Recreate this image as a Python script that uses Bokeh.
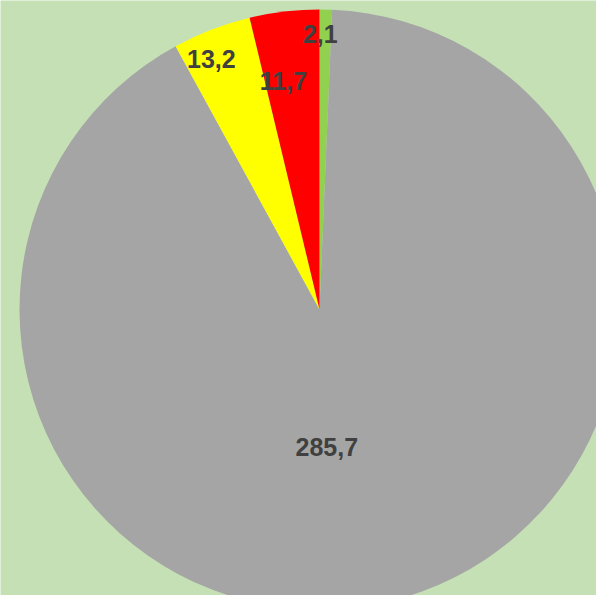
import math
from bokeh.plotting import figure
from bokeh.models import ColumnDataSource
from bokeh.core.properties import value
from bokeh.embed import file_html
from bokeh.resources import INLINE

# Data (clockwise from 12 o'clock)
labels = ["2,1", "285,7", "13,2", "11,7"]
values = [2.1, 285.7, 13.2, 11.7]
colors = ["#92D050", "#A5A5A5", "#FFFF00", "#FF0000"]

# Layout / style
W, H = 596, 595
CX, CY = 319, H - 309
R = 300
label_rfrac = [0.92, 0.46, 0.91, 0.77]
label_dx = [-5, -24, -10, -9]
label_dy = [0, -3, -4, -1]

total = sum(values)
starts, ends, lx, ly = [], [], [], []
acc = 0.0
for v, rf, dx, dy in zip(values, label_rfrac, label_dx, label_dy):
    a0 = math.pi / 2 - 2 * math.pi * acc / total
    acc += v
    a1 = math.pi / 2 - 2 * math.pi * acc / total
    starts.append(a1)
    ends.append(a0)
    mid = (a0 + a1) / 2
    lx.append(CX + rf * R * math.cos(mid) + dx)
    ly.append(CY + rf * R * math.sin(mid) + dy)

src = ColumnDataSource(dict(start=starts, end=ends, color=colors,
                            lx=lx, ly=ly, label=labels,
                            x=[CX] * 4, y=[CY] * 4))

p = figure(width=W, height=H, x_range=(0, W), y_range=(0, H),
           output_backend="svg", toolbar_location=None,
           min_border=0, background_fill_color="#C5E0B4",
           border_fill_color="#C5E0B4")
p.axis.visible = False
p.grid.visible = False
p.outline_line_color = None

p.wedge(x="x", y="y", radius=R, start_angle="start", end_angle="end",
        direction="anticlock", fill_color="color", line_color=None, source=src)

p.text(x="lx", y="ly", text="label", source=src,
       text_font=value("Liberation Sans"), text_font_style="bold",
       text_font_size="25px", text_color="#404040",
       text_align="center", text_baseline="middle")

open("out.html", "w").write(file_html(p, INLINE))
